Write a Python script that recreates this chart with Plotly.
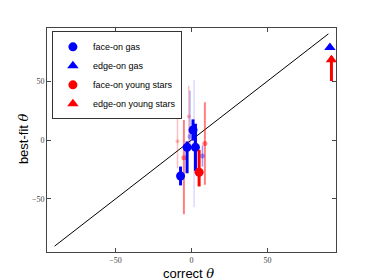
import plotly.graph_objects as go

# ---- data ----
# face-on gas (blue circles)
fg_x = [1.7, -1.0, 7.2, -7.2, -2.9, 1.0, 2.6]
fg_y = [-3.0, 3.0, -13.6, -30.5, -6.2, 8.5, -6.2]
fg_ep = [54, 39, 9, 8, 5, 9, 20]
fg_em = [54, 8, 9, 8, 22, 9, 20]
fg_alpha = [0.15, 0.3, 0.4, 1, 1, 1, 1]
fg_size = [4, 5, 5, 9, 9, 9, 9]

# face-on young stars (red circles)
fs_x = [-9.2, -1.8, -5.0, 8.8, 5.0]
fs_y = [-1.0, 20.0, -15.0, -3.0, -27.4]
fs_ep = [23, 26, 32, 35, 19]
fs_em = [23, 26, 48, 35, 12]
fs_alpha = [0.25, 0.25, 0.5, 0.5, 1]
fs_size = [4, 4, 5, 5, 9]

# edge-on gas (blue triangles)
eg_x = [91.0]
eg_y = [78.5]
eg_ep = [2]
eg_em = [2]
eg_alpha = [1]
eg_size = [10]

# edge-on young stars (red triangles)
es_x = [92.0]
es_y = [68.0]
es_ep = [3]
es_em = [18]
es_alpha = [1]
es_size = [10]

diag = [-90, 90]
xticks = [-50, 0, 50]
yticks = [-50, 0, 50]

groups = [
    ("face-on gas", "circle", (0, 0, 255), fg_x, fg_y, fg_ep, fg_em, fg_alpha, fg_size),
    ("edge-on gas", "triangle-up", (0, 0, 255), eg_x, eg_y, eg_ep, eg_em, eg_alpha, eg_size),
    ("face-on young stars", "circle", (255, 0, 0), fs_x, fs_y, fs_ep, fs_em, fs_alpha, fs_size),
    ("edge-on young stars", "triangle-up", (255, 0, 0), es_x, es_y, es_ep, es_em, es_alpha, es_size),
]

fig = go.Figure()
fig.add_trace(go.Scatter(x=diag, y=diag, mode="lines",
                         line=dict(color="black", width=1), showlegend=False,
                         hoverinfo="skip"))

items = []
for gi, (name, sym, rgb, xs, ys, eps, ems, als, szs) in enumerate(groups):
    for i in range(len(xs)):
        items.append((als[i], gi, i))
items.sort(key=lambda t: t[0])

best = {}
for a, gi, i in items:
    best[gi] = i

for a, gi, i in items:
    name, sym, rgb, xs, ys, eps, ems, als, szs = groups[gi]
    col = "rgba(%d,%d,%d,%.2f)" % (rgb[0], rgb[1], rgb[2], a)
    bw = 3 if a >= 0.99 else (2 if a >= 0.45 else 1.5)
    leg = best[gi] == i
    fig.add_trace(go.Scatter(
        x=[xs[i]], y=[ys[i]], mode="markers", name=name,
        marker=dict(symbol=sym, size=szs[i], color=col, line=dict(width=0)),
        error_y=dict(type="data", symmetric=False, array=[eps[i]], arrayminus=[ems[i]],
                     color=col, thickness=bw, width=0),
        showlegend=leg, legendrank=gi + 1, legendgroup=name,
    ))

theta = '<i><span style="font-family:DejaVu Serif">θ</span></i>'

# page body has an 8px margin: figure is sized to fit the 374x280 window
fig.update_layout(
    width=366, height=272,
    margin=dict(l=39, r=38, t=20, b=28),
    paper_bgcolor="white", plot_bgcolor="white",
    font=dict(family="Liberation Sans, Arial, sans-serif", color="black"),
    legend=dict(x=0.017, y=0.985, xanchor="left", yanchor="top",
                bordercolor="#333", borderwidth=1, bgcolor="white",
                font=dict(size=9), itemwidth=30, tracegroupgap=0),
    showlegend=True,
    annotations=[
        dict(text="correct " + theta, x=0.488, y=-0.098, xref="paper", yref="paper",
             xanchor="center", yanchor="middle", showarrow=False,
             font=dict(size=13, color="black")),
        dict(text="best-fit " + theta, x=-0.083, y=0.504, xref="paper", yref="paper",
             xanchor="center", yanchor="middle", showarrow=False, textangle=-90,
             font=dict(size=13, color="black")),
    ],
)
fig.update_xaxes(range=[-95, 95], tickvals=xticks, ticks="inside", ticklen=4,
                 tickcolor="#444", showline=True, linecolor="#444", linewidth=1,
                 mirror="ticks", showgrid=False, zeroline=False, automargin=False,
                 tickfont=dict(family="Liberation Serif, serif", size=8, color="#444"))
fig.update_yaxes(range=[-95, 95], tickvals=yticks, ticks="inside", ticklen=4,
                 tickcolor="#444", showline=True, linecolor="#444", linewidth=1,
                 mirror="ticks", showgrid=False, zeroline=False, automargin=False,
                 tickfont=dict(family="Liberation Serif, serif", size=8, color="#444"))

fig.write_html("out.html")
